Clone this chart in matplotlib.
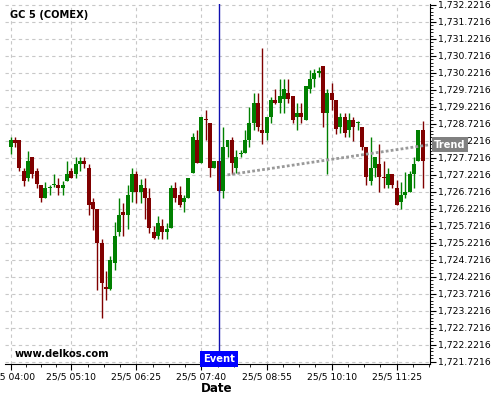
import matplotlib
matplotlib.use('Agg')
import matplotlib.pyplot as plt
import matplotlib.transforms as mtransforms
from matplotlib.ticker import FixedLocator, AutoMinorLocator, FuncFormatter
import numpy as np

# 5 minute candles, index 0 = 25/5 04:00
opens = [1728.05, 1728.25, 1728.25, 1727.33, 1727.14, 1727.74, 1727.33, 1726.92, 1726.55, 1726.84,
         1726.92, 1726.92, 1726.84, 1727.04, 1727.33, 1727.24, 1727.54, 1727.63, 1727.41, 1726.43,
         1726.22, 1725.22, 1723.93, 1723.85, 1724.64, 1725.55, 1726.14, 1726.04, 1726.73, 1727.25,
         1726.73, 1726.83, 1726.53, 1725.55, 1725.42, 1725.72, 1725.55, 1725.65, 1726.83, 1726.63,
         1726.43, 1726.53, 1727.27, 1728.25, 1727.56, 1728.87, 1728.74, 1727.43, 1727.63, 1726.75,
         1728.05, 1728.25, 1727.43, 1727.84, 1727.86, 1728.25, 1728.74, 1729.33, 1728.54, 1728.44,
         1728.92, 1729.43, 1729.35, 1729.45, 1729.64, 1729.54, 1728.93, 1729.03, 1728.84, 1729.76,
         1730.03, 1730.23, 1730.43, 1729.05, 1729.64, 1729.43, 1728.64, 1728.93, 1728.54, 1728.84,
         1728.76, 1728.64, 1728.05, 1727.05, 1727.41, 1727.54, 1727.17, 1726.92, 1727.25, 1726.83,
         1726.43, 1726.63, 1726.73, 1727.25, 1727.64, 1728.54]
highs = [1728.33, 1728.33, 1728.25, 1727.43, 1727.92, 1727.74, 1727.43, 1726.92, 1727.02, 1726.92,
         1727.24, 1727.12, 1727.04, 1727.63, 1727.43, 1727.74, 1727.76, 1727.74, 1727.54, 1726.53,
         1726.22, 1725.32, 1724.40, 1724.83, 1725.84, 1726.53, 1726.40, 1726.92, 1727.41, 1727.34,
         1727.09, 1727.13, 1726.83, 1725.72, 1726.01, 1725.91, 1725.81, 1726.92, 1727.02, 1726.89,
         1726.63, 1727.12, 1728.44, 1728.54, 1728.93, 1729.13, 1728.74, 1727.63, 1727.63, 1728.64,
         1728.25, 1728.34, 1727.95, 1727.95, 1728.54, 1729.23, 1729.62, 1729.62, 1730.95, 1728.92,
         1729.52, 1729.74, 1730.03, 1730.03, 1730.03, 1729.54, 1729.33, 1729.33, 1729.84, 1730.31,
         1730.33, 1730.41, 1730.43, 1729.74, 1729.92, 1729.43, 1729.03, 1729.03, 1729.03, 1728.92,
         1728.82, 1728.64, 1728.05, 1728.33, 1727.74, 1728.13, 1727.64, 1727.41, 1727.25, 1727.07,
         1727.02, 1727.31, 1727.34, 1727.74, 1728.54, 1728.82]
lows = [1727.83, 1728.04, 1727.33, 1726.90, 1727.04, 1727.12, 1726.84, 1726.43, 1726.55, 1726.63,
        1726.87, 1726.63, 1726.63, 1727.04, 1727.12, 1727.12, 1727.34, 1727.41, 1726.04, 1725.60,
        1723.83, 1723.00, 1723.54, 1723.83, 1724.42, 1725.42, 1725.42, 1725.62, 1726.43, 1726.40,
        1726.40, 1725.91, 1725.52, 1725.32, 1725.32, 1725.32, 1725.32, 1725.65, 1726.43, 1726.28,
        1726.14, 1726.53, 1727.27, 1727.56, 1727.56, 1728.25, 1727.17, 1727.43, 1726.73, 1726.53,
        1727.76, 1727.24, 1727.29, 1727.75, 1727.86, 1728.05, 1728.54, 1728.52, 1728.13, 1728.25,
        1728.76, 1729.31, 1729.03, 1729.03, 1729.33, 1728.74, 1728.54, 1728.74, 1728.84, 1729.62,
        1729.82, 1730.11, 1728.64, 1727.24, 1729.13, 1728.42, 1728.44, 1728.34, 1728.34, 1728.23,
        1728.54, 1727.95, 1726.92, 1726.92, 1727.17, 1726.73, 1726.83, 1726.83, 1726.83, 1726.33,
        1726.21, 1726.54, 1726.73, 1726.83, 1727.64, 1726.83]
closes = [1728.25, 1728.15, 1727.43, 1727.04, 1727.63, 1727.24, 1726.94, 1726.55, 1726.83, 1726.87,
          1726.96, 1726.84, 1726.92, 1727.24, 1727.14, 1727.54, 1727.63, 1727.54, 1726.33, 1726.22,
          1725.22, 1724.05, 1723.85, 1724.71, 1725.42, 1726.04, 1726.04, 1726.63, 1727.25, 1726.73,
          1726.92, 1726.53, 1725.65, 1725.35, 1725.81, 1725.55, 1725.62, 1726.83, 1726.53, 1726.33,
          1726.53, 1727.12, 1728.34, 1727.56, 1728.93, 1728.85, 1727.43, 1727.63, 1726.75, 1728.05,
          1728.25, 1727.56, 1727.76, 1727.86, 1728.25, 1728.74, 1729.33, 1728.64, 1728.44, 1728.92,
          1729.43, 1729.35, 1729.54, 1729.74, 1729.45, 1728.84, 1729.03, 1728.93, 1729.84, 1730.03,
          1730.23, 1730.28, 1729.05, 1729.64, 1729.43, 1728.56, 1728.93, 1728.44, 1728.84, 1728.64,
          1728.77, 1728.05, 1727.15, 1727.41, 1727.74, 1727.15, 1727.14, 1727.25, 1726.92, 1726.33,
          1726.63, 1726.73, 1727.25, 1727.54, 1728.54, 1727.64]

tick_pos = [0, 14, 29, 44, 59, 74, 89]
tick_labels = ['25/5 04:00', '25/5 05:10', '25/5 06:25', '25/5 07:40',
               '25/5 08:55', '25/5 10:10', '25/5 11:25']

event_idx = 48
trend_x = [50, 96.66]
trend_y = [1727.22, 1728.11]

fig = plt.figure(figsize=(5, 4), dpi=100)
ax = fig.add_axes([0.01, 0.09, 0.85, 0.9])

o = np.array(opens)
h = np.array(highs)
l = np.array(lows)
c = np.array(closes)
x = np.arange(len(o))
up = c >= o
cols = np.where(up, '#008000', '#800000')

ax.vlines(x, l, h, colors=cols, linewidth=1, zorder=2)
body = np.maximum(np.abs(c - o), 0.03)
ax.bar(x, body, bottom=np.minimum(o, c), width=0.92, color=cols, linewidth=0, zorder=3)

ax.plot(trend_x, trend_y, color='#999999', lw=2, linestyle=(0, (1, 0.8)), zorder=4)
ax.axvline(event_idx, color='#1010b0', lw=1, zorder=5)

ax.set_xlim(-1.27, 96.66)
ax.set_ylim(1721.653, 1732.251)

ax.xaxis.set_major_locator(FixedLocator(tick_pos))
ax.set_xticklabels(tick_labels)
minor = []
for a, b in zip(tick_pos[:-1], tick_pos[1:]):
    minor += list(np.linspace(a, b, 5)[1:-1])
minor += [89 + 3.75, 89 + 7.5]
ax.xaxis.set_minor_locator(FixedLocator(minor))

ax.yaxis.set_major_locator(FixedLocator(np.arange(1721.7216, 1732.3, 0.5)))
ax.yaxis.set_minor_locator(AutoMinorLocator(5))
ax.yaxis.set_major_formatter(FuncFormatter(lambda v, p: '{:,.4f}'.format(v)))
ax.yaxis.tick_right()

ax.tick_params(axis='both', which='major', labelsize=6.7, length=4, width=0.8, pad=2)
ax.tick_params(axis='both', which='minor', length=2, width=0.6)

ax.spines['left'].set_visible(False)
ax.spines['top'].set_visible(False)

ax.grid(True, which='major', color='#c8c8c8', linestyle=(0, (3, 3)), linewidth=0.8)
ax.set_axisbelow(True)

ax.text(0.012, 0.969, 'GC 5 (COMEX)', transform=ax.transAxes, fontsize=7.1,
        fontweight='bold', va='center', ha='left')
ax.text(0.0235, 0.029, 'www.delkos.com', transform=ax.transAxes, fontsize=7.2,
        fontweight='bold', va='center', ha='left')

trans = mtransforms.blended_transform_factory(ax.transData, ax.transAxes)
ax.text(event_idx, 0.0, 'Event', transform=trans, ha='center', va='bottom',
        fontsize=7.2, fontweight='bold', color='white', zorder=6,
        bbox=dict(facecolor='#0000ff', edgecolor='none', boxstyle='square,pad=0.3'))

trans2 = mtransforms.blended_transform_factory(ax.transAxes, ax.transData)
ax.text(1.0 + 4 / 425, trend_y[-1], 'Trend', transform=trans2, ha='left', va='center',
        fontsize=7.1, fontweight='bold', color='white', zorder=6, clip_on=False,
        bbox=dict(facecolor='#808080', edgecolor='none', boxstyle='square,pad=0.25'))

fig.text(0.434, 0.0275, 'Date', fontsize=8.6, fontweight='bold', ha='center', va='center')

fig.savefig('out.png', dpi=100)
